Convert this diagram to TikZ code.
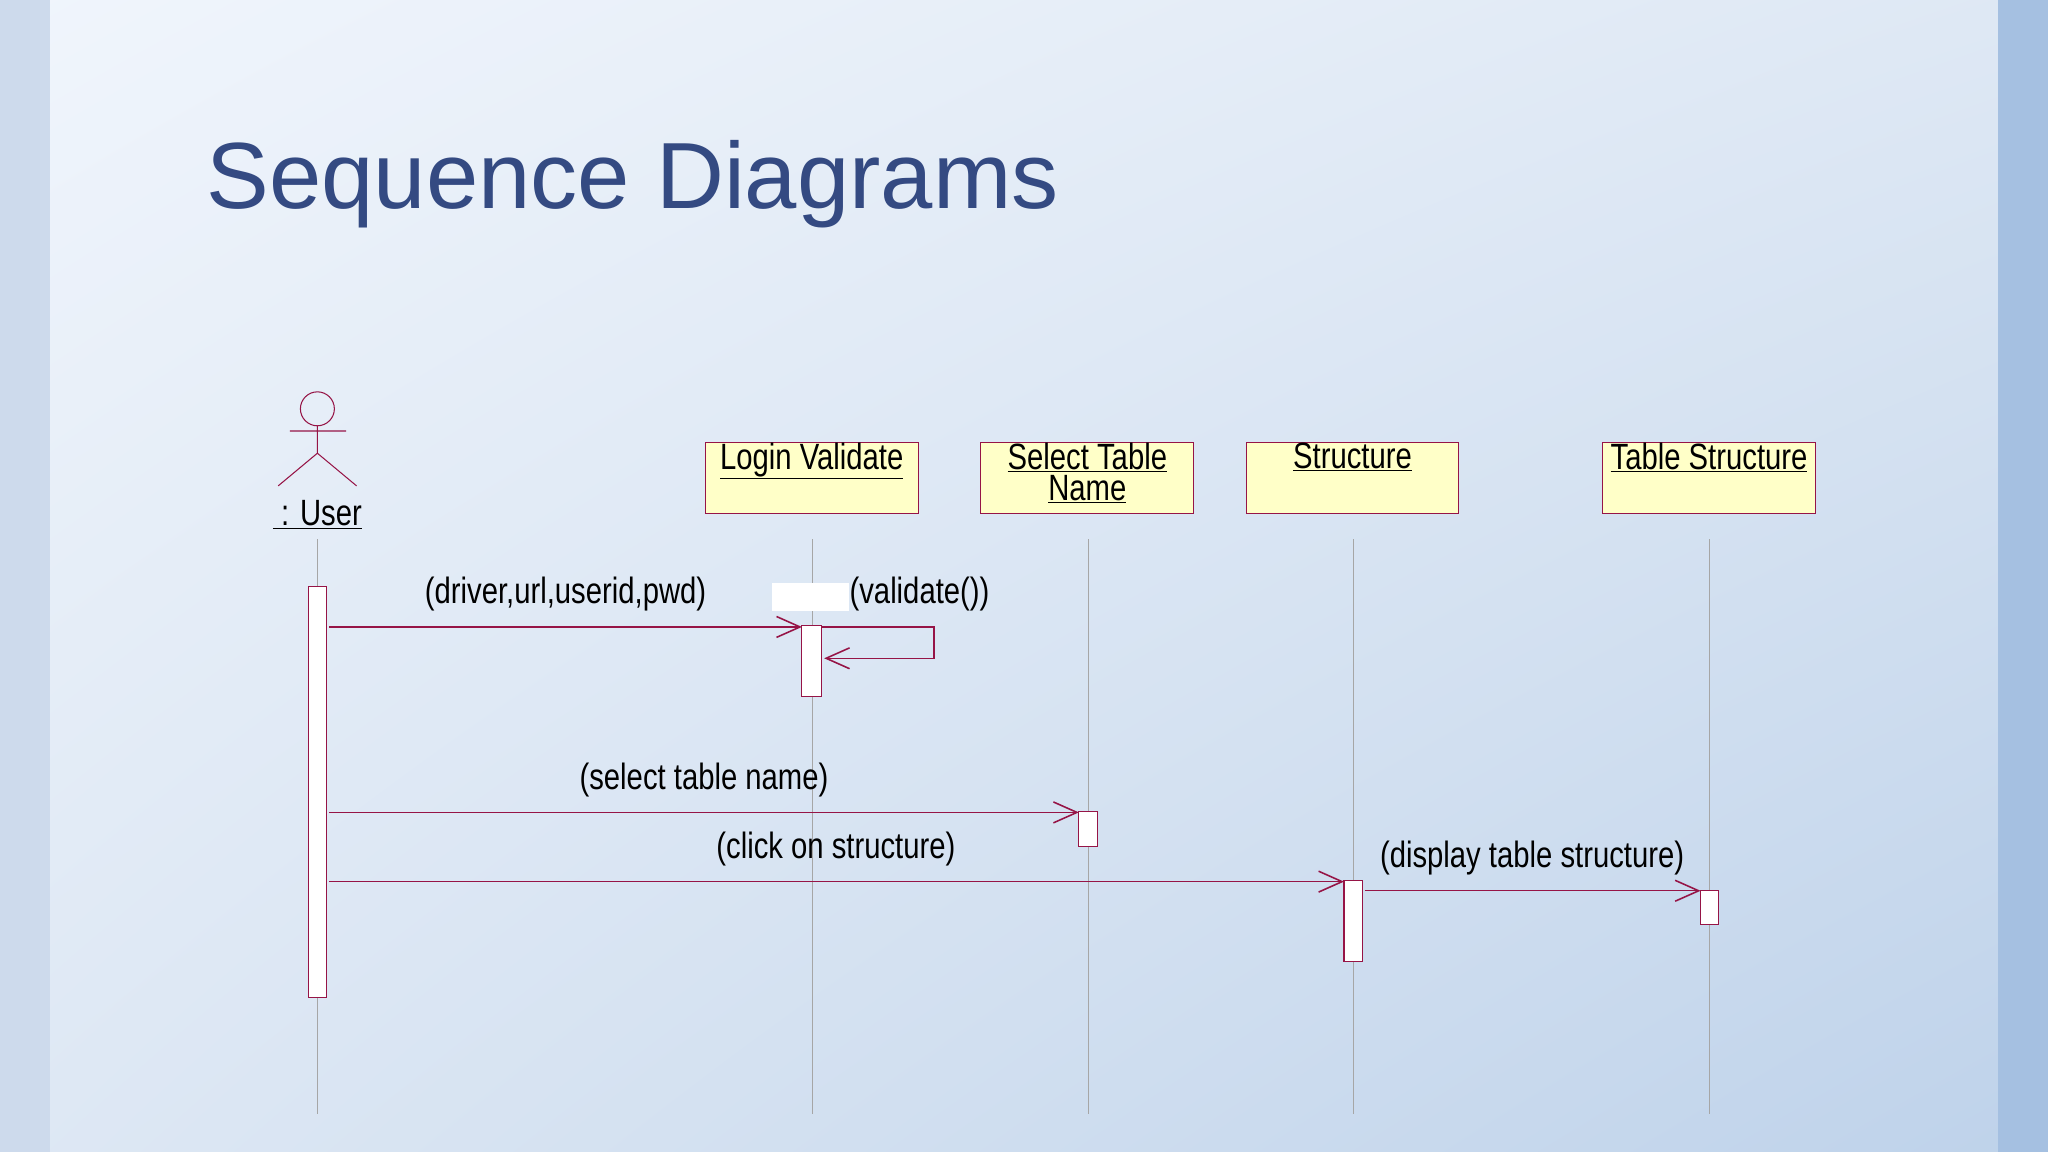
\documentclass[tikz,border=0pt]{standalone}
\usepackage{fontspec}
\setmainfont{Liberation Sans}
\newfontfamily\narrowfont[FakeStretch=0.8]{Liberation Sans}
\usetikzlibrary{arrows.meta, positioning, shadings}
\definecolor{msgred}{RGB}{150,20,70}
\definecolor{titleblue}{RGB}{52,74,130}
\definecolor{boxfill}{RGB}{255,255,200}
\definecolor{bglight}{RGB}{240,245,252}
\definecolor{bgmid}{RGB}{222,232,244}
\definecolor{bgdark}{RGB}{190,210,234}
\definecolor{sidestrip}{RGB}{205,218,236}
\definecolor{rightstrip}{RGB}{165,192,225}
\tikzset{
  objbox/.style={draw=msgred, fill=boxfill, minimum width=163pt, minimum height=54pt, line width=0.8pt},
  objname/.style={font=\narrowfont\fontsize{28}{24}\selectfont, align=center, inner sep=0pt},
  lifeline/.style={draw=gray!70, line width=0.6pt},
  activation/.style={draw=msgred, fill=white, line width=0.8pt},
  msg/.style={draw=msgred, line width=1pt, -{Straight Barb[length=18pt,width=16pt,line width=1.2pt]}},
  msglabel/.style={font=\narrowfont\fontsize{28}{28}\selectfont, inner sep=0pt}
}
\begin{document}
\begin{tikzpicture}[x=1pt,y=-1pt]
  % background
  \shade[upper left=bglight, upper right=bgmid, lower left=bgmid, lower right=bgdark] (0,0) rectangle (1568,882);
  \fill[sidestrip] (0,0) rectangle (38,882);
  \fill[rightstrip] (1530,0) rectangle (1568,882);
  \useasboundingbox (0,0) rectangle (1568,882);

  \node[anchor=west, text=titleblue, font=\fontsize{72}{72}\selectfont, inner sep=0pt] (title) at (158,141) {Sequence Diagrams};

  % actor
  \draw[msgred, line width=0.8pt] (243,313) circle (13);
  \draw[msgred, line width=0.8pt] (243,326) -- (243,347) coordinate (hip)
    (222,330) -- (265,330) (213,372) -- (hip) -- (273,372);
  \node[objname] (user) at (243,394) {\underline{\ : User}};

  % objects
  \node[objbox] (login) at (621.5,366) {};
  \node[objname, anchor=north] at (login.north) {\underline{Login Validate}};
  \node[objbox] (select) at (832.5,366) {};
  \node[objname, anchor=north] at (select.north) {\underline{Select Table}\\\underline{Name}};
  \node[objbox] (struct) at (1035.5,366) {};
  \node[objname, anchor=north] at (struct.north) {\underline{Structure}};
  \node[objbox] (table) at (1308.5,366) {};
  \node[objname, anchor=north] at (table.north) {\underline{Table Structure}};

  % lifelines
  \foreach \x in {243,622,833,1036,1309}
    \draw[lifeline] (\x,413) -- (\x,853);

  % activations
  \draw[activation] (236,449) rectangle (250,764);
  \draw[activation] (614,479) rectangle (629,533);
  \draw[activation] (826,621) rectangle (840,648);
  \draw[activation] (1029,674) rectangle (1043,736);
  \draw[activation] (1302,682) rectangle (1316,708);

  % messages
  \coordinate (m1s) at (252,480); \coordinate (m1e) at (614,480);
  \draw[msg] (m1s) -- (m1e);
  \node[msglabel] (l1) at (433,455) {(driver,url,userid,pwd)};
  \fill[white] (591,446) rectangle (650,468);
  \coordinate (v1) at (629,480); \coordinate (v2) at (631,504);
  \draw[msg] (v1) -- (715,480) -- (715,504) -- (v2);
  \node[msglabel] (l2) at (704,455) {(validate())};
  \coordinate (m3s) at (252,622); \coordinate (m3e) at (826,622);
  \draw[msg] (m3s) -- (m3e);
  \node[msglabel] (l3) at (539,597) {(select table name)};
  \coordinate (m4s) at (252,675); \coordinate (m4e) at (1029,675);
  \draw[msg] (m4s) -- (m4e);
  \node[msglabel] (l4) at (640,650) {(click on structure)};
  \coordinate (m5s) at (1045,682); \coordinate (m5e) at (1302,682);
  \draw[msg] (m5s) -- (m5e);
  \node[msglabel] (l5) at (1173,657) {(display table structure)};
\end{tikzpicture}
\end{document}
